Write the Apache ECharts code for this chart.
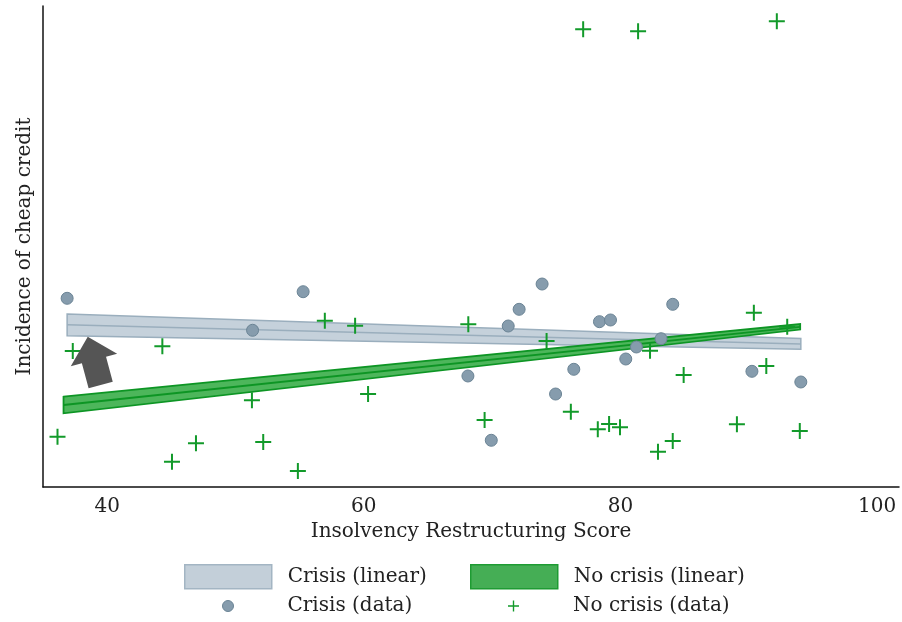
<!DOCTYPE html>
<html>
<head>
<meta charset="utf-8">
<script src="https://cdn.jsdelivr.net/npm/echarts@6/dist/echarts.min.js"></script>
<style>
  html, body { margin: 0; padding: 0; background: #fff; }
  #chart { width: 902px; height: 622px; }
</style>
</head>
<body>
<div id="chart"></div>
<script>
// Crisis observations: restructuring score and incidence of cheap credit
const crisisScore = [36.88, 55.27, 51.33, 68.11, 69.93, 71.25, 72.10, 73.89, 74.94, 76.36, 78.36, 79.22, 80.41, 81.24, 83.16, 84.07, 90.24, 94.05];
const crisisCredit = [39.23, 40.60, 32.58, 23.08, 9.71, 33.47, 36.94, 42.20, 19.33, 24.47, 34.37, 34.72, 26.61, 29.11, 30.83, 37.98, 24.05, 21.83];

// No-crisis observations
const noCrisisScore = [36.13, 37.32, 44.30, 45.05, 46.92, 51.28, 52.16, 54.86, 56.96, 59.32, 60.33, 68.14, 69.41, 74.24, 76.13, 77.09, 78.23, 79.11, 79.96, 81.37, 82.30, 82.92, 84.07, 84.92, 89.07, 90.39, 91.36, 92.18, 92.99, 93.97];
const noCrisisCredit = [10.46, 28.27, 29.25, 5.26, 9.09, 18.02, 9.36, 3.33, 34.57, 33.53, 19.33, 33.83, 13.93, 30.35, 15.65, 95.16, 12.00, 13.10, 12.41, 94.74, 28.34, 7.34, 9.56, 23.28, 13.04, 36.24, 25.16, 96.82, 33.33, 11.64];

// Linear fits with confidence band (values at the two ends of each fit)
const crisisFitX = [36.88, 94.05];
const crisisFitLow = [31.46, 28.63];
const crisisFitMid = [33.71, 29.75];
const crisisFitHigh = [35.97, 30.87];

const noCrisisFitX = [36.6, 94.0];
const noCrisisFitLow = [15.32, 32.74];
const noCrisisFitMid = [17.05, 33.30];
const noCrisisFitHigh = [18.77, 33.89];

// Annotation arrow anchor (score, credit)
const arrowAt = [38.99, 26.22];

// Axis tick labels
const xTickLabels = [40, 60, 80, 100];

const FONT = 'DejaVu Serif';
const PLUS = 'path://M7,0h2v16h-2zM0,7h16v2h-16z';
const ARROW = 'path://M24,0L48,24L36.5,24L36.5,50L11.5,50L11.5,24L0,24Z';

const GREY_FILL = '#c3cfd9', GREY_EDGE = '#9aaebd';
const GREEN_FILL = '#45ae55', GREEN_EDGE = '#0d9524';
const DOT_FILL = '#869cad', DOT_EDGE = '#6b8495';
const PLUS_COLOR = '#129a2a';

function bandItem(xs, lo, mid, hi) {
  return [xs[0], xs[1], lo[0], lo[1], mid[0], mid[1], hi[0], hi[1]];
}

function bandRenderer(fill, stroke, width) {
  return function (params, api) {
    const x0 = api.value(0), x1 = api.value(1);
    const lo0 = api.coord([x0, api.value(2)]), lo1 = api.coord([x1, api.value(3)]);
    const md0 = api.coord([x0, api.value(4)]), md1 = api.coord([x1, api.value(5)]);
    const hi0 = api.coord([x0, api.value(6)]), hi1 = api.coord([x1, api.value(7)]);
    return {
      type: 'group',
      children: [
        {
          type: 'polygon',
          shape: { points: [hi0, hi1, lo1, lo0] },
          style: { fill: fill, stroke: stroke, lineWidth: width }
        },
        {
          type: 'polyline',
          shape: { points: [md0, md1] },
          style: { fill: null, stroke: stroke, lineWidth: width }
        }
      ]
    };
  };
}

const legendText = { color: '#222', fontFamily: FONT, fontSize: 20, padding: [0, 0, 0, 11] };

function legendBox(item, left, top, h) {
  return {
    data: [item],
    left: left,
    top: top,
    padding: 0,
    itemWidth: 87,
    itemHeight: h,
    selectedMode: false,
    textStyle: legendText
  };
}

const chart = echarts.init(document.getElementById('chart'), null, { renderer: 'canvas' });

chart.setOption({
  animation: false,
  backgroundColor: '#ffffff',
  grid: { left: 43, top: 6, right: 2, bottom: 135 },
  xAxis: {
    type: 'value',
    min: 35,
    max: 101.7,
    interval: 5,
    splitLine: { show: false },
    axisTick: { show: false },
    axisLine: { show: true, onZero: false, lineStyle: { color: '#111', width: 1.5 } },
    axisLabel: {
      margin: 10,
      color: '#222',
      fontFamily: FONT,
      fontSize: 20,
      showMinLabel: true,
      showMaxLabel: true,
      formatter: function (v) { return xTickLabels.indexOf(Math.round(v * 1000) / 1000) >= 0 ? String(v) : ''; }
    },
    name: 'Insolvency Restructuring Score',
    nameLocation: 'middle',
    nameGap: 28,
    nameTextStyle: { color: '#222', fontFamily: FONT, fontSize: 20 }
  },
  yAxis: {
    type: 'value',
    min: 0,
    max: 100,
    splitLine: { show: false },
    axisTick: { show: false },
    axisLabel: { show: false },
    axisLine: { show: true, onZero: false, lineStyle: { color: '#111', width: 1.5 } },
    name: 'Incidence of cheap credit',
    nameLocation: 'middle',
    nameGap: 8,
    nameTextStyle: { color: '#222', fontFamily: FONT, fontSize: 20 }
  },
  legend: [
    legendBox({ name: 'Crisis (linear)', icon: 'rect', itemStyle: { color: GREY_FILL, borderColor: '#a3b5c3', borderWidth: 1.5 } }, 184, 564, 24),
    legendBox({ name: 'No crisis (linear)', icon: 'rect', itemStyle: { color: GREEN_FILL, borderColor: '#1e9b33', borderWidth: 1.5 } }, 470, 564, 24),
    legendBox({ name: 'Crisis (data)', icon: 'circle', itemStyle: { color: DOT_FILL, borderColor: DOT_EDGE, borderWidth: 1, opacity: 1 } }, 222, 596, 11),
    legendBox({ name: 'No crisis (data)', icon: PLUS, itemStyle: { color: PLUS_COLOR, opacity: 1 } }, 508, 596, 11)
  ],
  series: [
    {
      name: 'Crisis (linear)',
      type: 'custom',
      renderItem: bandRenderer('#c5d1db', GREY_EDGE, 1.5),
      encode: { x: [0, 1], y: [2, 3, 4, 5, 6, 7] },
      itemStyle: { color: GREY_FILL },
      data: [bandItem(crisisFitX, crisisFitLow, crisisFitMid, crisisFitHigh)],
      z: 2
    },
    {
      name: 'No crisis (linear)',
      type: 'custom',
      renderItem: bandRenderer('#4db65b', GREEN_EDGE, 1.8),
      encode: { x: [0, 1], y: [2, 3, 4, 5, 6, 7] },
      itemStyle: { color: GREEN_FILL },
      data: [bandItem(noCrisisFitX, noCrisisFitLow, noCrisisFitMid, noCrisisFitHigh)],
      z: 3
    },
    {
      name: 'Crisis (data)',
      type: 'scatter',
      symbol: 'circle',
      symbolSize: 12,
      itemStyle: { color: DOT_FILL, borderColor: DOT_EDGE, borderWidth: 1, opacity: 1 },
      data: crisisScore.map(function (x, i) { return [x, crisisCredit[i]]; }),
      z: 4
    },
    {
      name: 'No crisis (data)',
      type: 'scatter',
      symbol: PLUS,
      symbolSize: 16,
      itemStyle: { color: PLUS_COLOR, opacity: 1 },
      data: noCrisisScore.map(function (x, i) { return [x, noCrisisCredit[i]]; }),
      z: 5
    },
    {
      name: 'arrow',
      type: 'scatter',
      symbol: ARROW,
      symbolSize: [48, 50],
      symbolRotate: 15,
      symbolKeepAspect: false,
      itemStyle: { color: '#555555', opacity: 1 },
      silent: true,
      data: [arrowAt],
      z: 6
    }
  ]
});
</script>
</body>
</html>
